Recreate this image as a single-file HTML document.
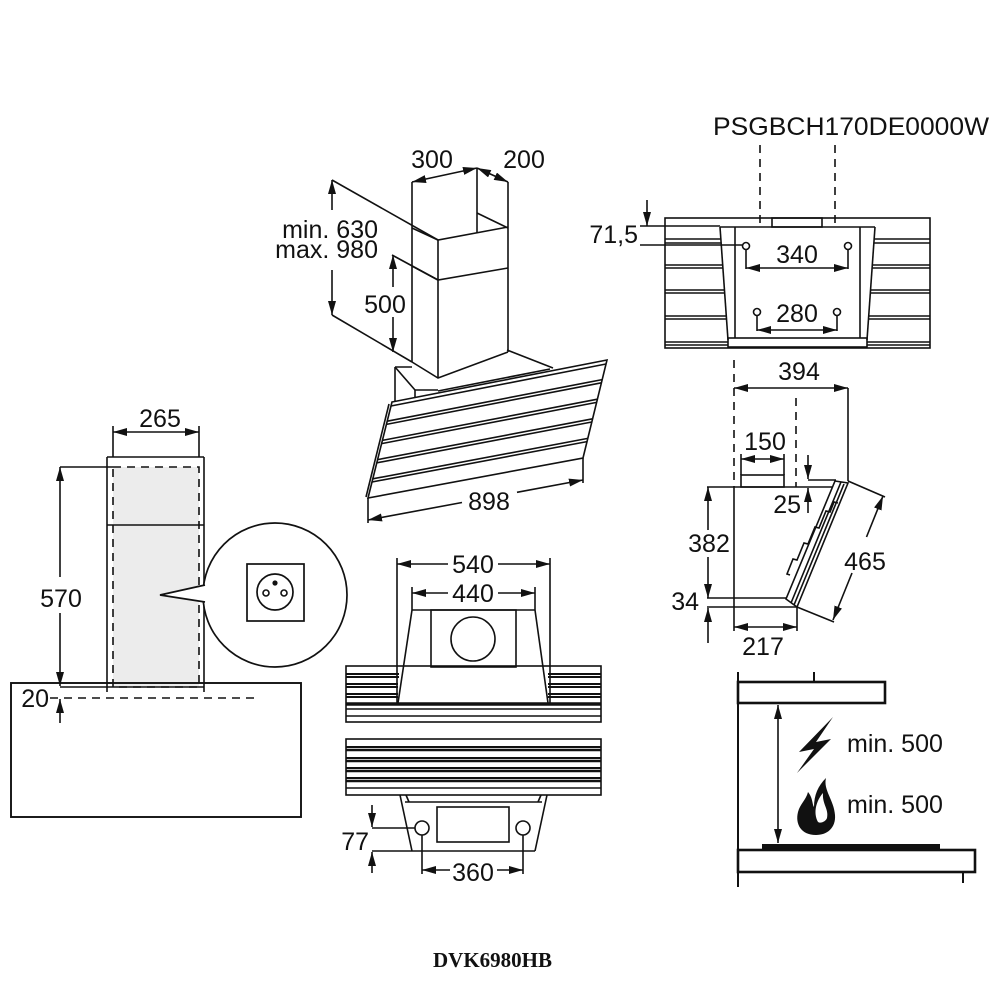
<!DOCTYPE html>
<html>
<head>
<meta charset="utf-8">
<style>
html,body{margin:0;padding:0;background:#fff;}
svg{display:block;}
text{font-family:"Liberation Sans",Arial,sans-serif;font-size:25px;fill:#111;}
.ser{font-family:"Liberation Serif","Times New Roman",serif;font-weight:bold;font-size:21px;}
</style>
</head>
<body>
<svg width="1000" height="1000" viewBox="0 0 1000 1000" xmlns="http://www.w3.org/2000/svg">
<defs>
<marker id="a" viewBox="0 0 14 8" refX="14" refY="4" markerWidth="14" markerHeight="8" markerUnits="userSpaceOnUse" orient="auto-start-reverse">
<path d="M0,0 L14,4 L0,8 z" fill="#111" stroke="none"/>
</marker>
</defs>
<rect x="0" y="0" width="1000" height="1000" fill="#fff"/>

<g fill="none" stroke="#111" stroke-width="1.6">

<!-- ============ CHIMNEY HOOD (top center) ============ -->
<line x1="412" y1="182" x2="477" y2="168" marker-start="url(#a)" marker-end="url(#a)"/>
<line x1="477" y1="168" x2="508" y2="182" marker-start="url(#a)" marker-end="url(#a)"/>
<line x1="412" y1="182" x2="412" y2="362"/>
<line x1="508" y1="182" x2="508" y2="352"/>
<line x1="477" y1="168" x2="477" y2="233"/>
<line x1="438" y1="240" x2="438" y2="378"/>
<polyline points="412,228 438,240 508,227"/>
<line x1="477" y1="213" x2="508" y2="228"/>
<polyline points="412,266 438,280 508,268"/>
<polyline points="412,362 438,378 508,352"/>
<line x1="332" y1="180" x2="438" y2="240"/>
<line x1="392" y1="255" x2="438" y2="280"/>
<line x1="332" y1="315" x2="412" y2="362"/>
<line x1="332" y1="210" x2="332" y2="180" marker-end="url(#a)"/>
<line x1="332" y1="270" x2="332" y2="315" marker-end="url(#a)"/>
<line x1="393" y1="287" x2="393" y2="255" marker-end="url(#a)"/>
<line x1="393" y1="317" x2="393" y2="352" marker-end="url(#a)"/>
<!-- hood body -->
<line x1="395" y1="367" x2="412" y2="367"/>
<line x1="395" y1="367" x2="395" y2="402"/>
<line x1="395" y1="367" x2="415" y2="390"/>
<line x1="415" y1="390" x2="438" y2="390"/>
<line x1="415" y1="390" x2="415" y2="398"/>
<line x1="438" y1="391" x2="550" y2="369"/>
<line x1="438" y1="394" x2="550" y2="372"/>
<line x1="507" y1="350" x2="553" y2="368"/>
<!-- glass panel -->
<polygon points="392,402 607,360 583,458 368,498" fill="#fff"/>
<line x1="391" y1="406" x2="606" y2="364"/>
<line x1="387.2" y1="421.2" x2="602.2" y2="379.6"/>
<line x1="386.4" y1="424.4" x2="601.4" y2="382.8"/>
<line x1="382.4" y1="440.4" x2="597.4" y2="399.2"/>
<line x1="381.6" y1="443.6" x2="596.6" y2="402.4"/>
<line x1="377.6" y1="459.6" x2="592.6" y2="418.8"/>
<line x1="376.8" y1="462.8" x2="591.8" y2="422"/>
<line x1="372.8" y1="478.8" x2="587.8" y2="438.4"/>
<line x1="372" y1="482" x2="587" y2="441.6"/>
<line x1="389" y1="404" x2="366" y2="497"/>
<!-- 898 dim -->
<line x1="368" y1="498" x2="368" y2="523"/>
<line x1="583" y1="458" x2="583" y2="483"/>
<line x1="462" y1="502.5" x2="368" y2="520" marker-end="url(#a)"/>
<line x1="517" y1="492.3" x2="583" y2="480" marker-end="url(#a)"/>

<!-- ============ WALL PLATE (top right) ============ -->
<line x1="760" y1="145" x2="760" y2="227" stroke-dasharray="8,6"/>
<line x1="835" y1="145" x2="835" y2="227" stroke-dasharray="8,6"/>
<rect x="665" y="218" width="265" height="130"/>
<rect x="772" y="218" width="50" height="9"/>
<line x1="720" y1="227" x2="875" y2="227"/>
<line x1="720" y1="227" x2="728" y2="340"/>
<line x1="875" y1="227" x2="867" y2="340"/>
<line x1="735" y1="227" x2="735" y2="338"/>
<line x1="860" y1="227" x2="860" y2="338"/>
<rect x="728" y="338" width="139" height="9"/>
<line x1="665" y1="239" x2="721" y2="239"/><line x1="665" y1="243" x2="721" y2="243"/>
<line x1="665" y1="265" x2="723" y2="265"/><line x1="665" y1="268" x2="723" y2="268"/>
<line x1="665" y1="290" x2="724" y2="290"/><line x1="665" y1="293" x2="724" y2="293"/>
<line x1="665" y1="316" x2="726" y2="316"/><line x1="665" y1="319" x2="726" y2="319"/>
<line x1="665" y1="342" x2="728" y2="342"/><line x1="665" y1="345" x2="728" y2="345"/>
<line x1="874" y1="239" x2="930" y2="239"/><line x1="874" y1="243" x2="930" y2="243"/>
<line x1="872" y1="265" x2="930" y2="265"/><line x1="872" y1="268" x2="930" y2="268"/>
<line x1="871" y1="290" x2="930" y2="290"/><line x1="871" y1="293" x2="930" y2="293"/>
<line x1="869" y1="316" x2="930" y2="316"/><line x1="869" y1="319" x2="930" y2="319"/>
<line x1="867" y1="342" x2="930" y2="342"/><line x1="867" y1="345" x2="930" y2="345"/>
<circle cx="746" cy="246" r="3.5"/>
<circle cx="848" cy="246" r="3.5"/>
<circle cx="757" cy="312" r="3.5"/>
<circle cx="837" cy="312" r="3.5"/>
<line x1="746" y1="249.5" x2="746" y2="269"/>
<line x1="848" y1="249.5" x2="848" y2="269"/>
<line x1="746" y1="268" x2="848" y2="268" marker-start="url(#a)" marker-end="url(#a)"/>
<line x1="757" y1="315.5" x2="757" y2="331"/>
<line x1="837" y1="315.5" x2="837" y2="331"/>
<line x1="757" y1="330" x2="837" y2="330" marker-start="url(#a)" marker-end="url(#a)"/>
<line x1="647" y1="200" x2="647" y2="226" marker-end="url(#a)"/>
<line x1="640" y1="226" x2="720" y2="226"/>
<line x1="640" y1="245" x2="742" y2="245"/>

<!-- ============ SIDE VIEW (right middle) ============ -->
<line x1="734" y1="360" x2="734" y2="487" stroke-dasharray="8,6"/>
<line x1="796" y1="398" x2="796" y2="487" stroke-dasharray="8,6"/>
<line x1="734" y1="388" x2="848" y2="388" marker-start="url(#a)" marker-end="url(#a)"/>
<line x1="848" y1="388" x2="848" y2="481"/>
<line x1="707" y1="487" x2="837" y2="487"/>
<line x1="734" y1="487" x2="734" y2="631"/>
<line x1="707" y1="598" x2="786" y2="598"/>
<rect x="741" y="475" width="43" height="12"/>
<line x1="741" y1="454" x2="741" y2="475"/>
<line x1="784" y1="454" x2="784" y2="475"/>
<line x1="741" y1="459" x2="784" y2="459" marker-start="url(#a)" marker-end="url(#a)"/>
<line x1="808" y1="455" x2="808" y2="479" marker-end="url(#a)"/>
<line x1="808" y1="480" x2="836" y2="480"/>
<line x1="808" y1="513" x2="808" y2="488" marker-end="url(#a)"/>
<line x1="708" y1="530" x2="708" y2="487" marker-end="url(#a)"/>
<line x1="708" y1="557" x2="708" y2="598" marker-end="url(#a)"/>
<line x1="707" y1="607" x2="797" y2="607"/>
<line x1="708" y1="643" x2="708" y2="608" marker-end="url(#a)"/>
<line x1="797" y1="607" x2="797" y2="631"/>
<line x1="734" y1="627" x2="797" y2="627" marker-start="url(#a)" marker-end="url(#a)"/>
<polygon points="835,481 848,483 797,607 786,599" fill="#fff"/>
<line x1="841" y1="482" x2="791" y2="603"/>
<line x1="844" y1="484" x2="794" y2="605"/>
<polyline points="838,503 834,502 830,512 826,511 819,528 815,527 808,544 804,543 797,560 793,559 787,574 790,575"/>
<line x1="848" y1="481" x2="885" y2="497"/>
<line x1="797" y1="607" x2="834" y2="622"/>
<line x1="866.5" y1="537" x2="883" y2="496" marker-end="url(#a)"/>
<line x1="852" y1="573" x2="833" y2="620" marker-end="url(#a)"/>

<!-- ============ LEFT: CHIMNEY + CABINET ============ -->
<line x1="113" y1="432" x2="199" y2="432" marker-start="url(#a)" marker-end="url(#a)"/>
<line x1="113" y1="426" x2="113" y2="457"/>
<line x1="199" y1="426" x2="199" y2="457"/>
<rect x="113" y="467" width="86" height="220" fill="#ececec" stroke="none"/>
<rect x="113" y="467" width="86" height="220" stroke-dasharray="8,6"/>
<line x1="107" y1="457" x2="204" y2="457"/>
<line x1="107" y1="457" x2="107" y2="692"/>
<line x1="204" y1="457" x2="204" y2="692"/>
<line x1="107" y1="525" x2="204" y2="525"/>
<line x1="60" y1="467" x2="113" y2="467"/>
<line x1="60" y1="687" x2="204" y2="687"/>
<line x1="60" y1="577" x2="60" y2="467" marker-end="url(#a)"/>
<line x1="60" y1="613" x2="60" y2="686" marker-end="url(#a)"/>
<rect x="11" y="683" width="290" height="134" stroke-width="1.9"/>
<line x1="50" y1="698" x2="260" y2="698" stroke-dasharray="8,6"/>
<line x1="60" y1="723" x2="60" y2="699" marker-end="url(#a)"/>
<circle cx="275" cy="595" r="72" fill="#fff" stroke-width="1.7"/>
<polygon points="206,584 160,595 206,603" fill="#fff" stroke="none"/>
<polyline points="205,585 160,595 205,602" stroke-width="1.7"/>
<rect x="247" y="564" width="57" height="57" stroke-width="1.7"/>
<circle cx="275" cy="592" r="18" stroke-width="1.7"/>
<circle cx="275" cy="583" r="2.6" fill="#111" stroke="none"/>
<circle cx="266" cy="593" r="3"/>
<circle cx="284" cy="593" r="3"/>

<!-- ============ BOTTOM CENTER ============ -->
<line x1="448" y1="564" x2="397" y2="564" marker-end="url(#a)"/>
<line x1="498" y1="564" x2="550" y2="564" marker-end="url(#a)"/>
<line x1="448" y1="593" x2="412" y2="593" marker-end="url(#a)"/>
<line x1="498" y1="593" x2="535" y2="593" marker-end="url(#a)"/>
<line x1="397" y1="558" x2="397" y2="703"/>
<line x1="550" y1="558" x2="550" y2="703"/>
<line x1="412" y1="587" x2="412" y2="610"/>
<line x1="535" y1="587" x2="535" y2="610"/>
<line x1="412" y1="610" x2="535" y2="610"/>
<line x1="412" y1="610" x2="398" y2="703"/>
<line x1="535" y1="610" x2="548" y2="703"/>
<rect x="431" y="610" width="85" height="57"/>
<circle cx="473" cy="639" r="22"/>
<rect x="346" y="666" width="255" height="56"/>
<line x1="346" y1="674" x2="399" y2="674" stroke-width="2"/><line x1="346" y1="677" x2="399" y2="677" stroke-width="2"/>
<line x1="346" y1="684" x2="398" y2="684" stroke-width="2"/><line x1="346" y1="687" x2="398" y2="687" stroke-width="2"/>
<line x1="346" y1="694" x2="398" y2="694" stroke-width="2"/><line x1="346" y1="697" x2="398" y2="697" stroke-width="2"/>
<line x1="548" y1="674" x2="601" y2="674" stroke-width="2"/><line x1="548" y1="677" x2="601" y2="677" stroke-width="2"/>
<line x1="548" y1="684" x2="601" y2="684" stroke-width="2"/><line x1="548" y1="687" x2="601" y2="687" stroke-width="2"/>
<line x1="548" y1="694" x2="601" y2="694" stroke-width="2"/><line x1="548" y1="697" x2="601" y2="697" stroke-width="2"/>
<line x1="346" y1="704" x2="601" y2="704" stroke-width="3.5"/>
<line x1="346" y1="709" x2="601" y2="709"/>
<line x1="346" y1="716" x2="601" y2="716"/>
<rect x="346" y="739" width="255" height="56"/>
<line x1="346" y1="747" x2="601" y2="747" stroke-width="2"/><line x1="346" y1="750" x2="601" y2="750" stroke-width="2.4"/>
<line x1="346" y1="758" x2="601" y2="758" stroke-width="2"/><line x1="346" y1="761" x2="601" y2="761" stroke-width="2.4"/>
<line x1="346" y1="768" x2="601" y2="768" stroke-width="2"/><line x1="346" y1="771" x2="601" y2="771" stroke-width="2.4"/>
<line x1="346" y1="778" x2="601" y2="778" stroke-width="2"/><line x1="346" y1="781" x2="601" y2="781" stroke-width="2.4"/>
<line x1="346" y1="788" x2="601" y2="788"/>
<line x1="400" y1="795" x2="412" y2="851"/>
<line x1="547" y1="795" x2="535" y2="851"/>
<line x1="406" y1="795" x2="409" y2="802"/>
<line x1="541" y1="795" x2="538" y2="802"/>
<line x1="412" y1="851" x2="535" y2="851"/>
<line x1="405" y1="802" x2="542" y2="802"/>
<rect x="437" y="807" width="72" height="35"/>
<circle cx="422" cy="828" r="7"/>
<circle cx="523" cy="828" r="7"/>
<line x1="372" y1="805" x2="372" y2="827" marker-end="url(#a)"/>
<line x1="372" y1="828" x2="415" y2="828"/>
<line x1="372" y1="851" x2="412" y2="851"/>
<line x1="372" y1="873" x2="372" y2="852" marker-end="url(#a)"/>
<line x1="422" y1="835" x2="422" y2="874"/>
<line x1="523" y1="835" x2="523" y2="874"/>
<line x1="450" y1="870" x2="422" y2="870" marker-end="url(#a)"/>
<line x1="497" y1="870" x2="523" y2="870" marker-end="url(#a)"/>

<!-- ============ BOTTOM RIGHT: CLEARANCE ============ -->
<line x1="738" y1="672" x2="738" y2="887" stroke-width="2"/>
<line x1="814" y1="672" x2="814" y2="682" stroke-width="2"/>
<rect x="738" y="682" width="147" height="21" stroke-width="2.6"/>
<rect x="762" y="844" width="178" height="7" fill="#111" stroke="none"/>
<rect x="738" y="850" width="237" height="22" stroke-width="2.6"/>
<line x1="963" y1="872" x2="963" y2="883" stroke-width="2"/>
<line x1="778" y1="705" x2="778" y2="843" marker-start="url(#a)" marker-end="url(#a)"/>
</g>

<polygon points="833,717 799,752 814,749 797,773 831,739 816,742" fill="#111"/>
<path d="M816,835 C801,835 795,824 798,812 C800,804 806,800 808,792 C813,798 812,804 814,807 C814,795 818,786 826,778 C823,790 834,800 835,815 C836,828 827,835 816,835 Z" fill="#111"/>
<path d="M818,822 C813,813 816,801 823,793 C822,804 829,809 827,818 C826,821 821,824 818,822 Z" fill="#fff"/>

<!-- ============ TEXT ============ -->
<text x="432" y="168" text-anchor="middle">300</text>
<text x="524" y="168" text-anchor="middle">200</text>
<text x="378" y="238" text-anchor="end">min. 630</text>
<text x="378" y="258" text-anchor="end">max. 980</text>
<text x="385" y="313" text-anchor="middle">500</text>
<text x="489" y="510" text-anchor="middle">898</text>

<text x="713" y="135" textLength="276" lengthAdjust="spacingAndGlyphs">PSGBCH170DE0000W</text>
<text x="638" y="243" text-anchor="end">71,5</text>
<text x="797" y="263" text-anchor="middle">340</text>
<text x="797" y="322" text-anchor="middle">280</text>

<text x="799" y="380" text-anchor="middle">394</text>
<text x="765" y="450" text-anchor="middle">150</text>
<text x="801" y="513" text-anchor="end">25</text>
<text x="709" y="552" text-anchor="middle">382</text>
<text x="699" y="610" text-anchor="end">34</text>
<text x="763" y="655" text-anchor="middle">217</text>
<text x="865" y="570" text-anchor="middle">465</text>

<text x="160" y="427" text-anchor="middle">265</text>
<text x="61" y="607" text-anchor="middle">570</text>
<text x="49" y="707" text-anchor="end">20</text>

<text x="473" y="573" text-anchor="middle">540</text>
<text x="473" y="602" text-anchor="middle">440</text>
<text x="369" y="850" text-anchor="end">77</text>
<text x="473" y="881" text-anchor="middle">360</text>

<text x="847" y="752">min. 500</text>
<text x="847" y="813">min. 500</text>

<text class="ser" x="433" y="967">DVK6980HB</text>
</svg>
</body>
</html>
